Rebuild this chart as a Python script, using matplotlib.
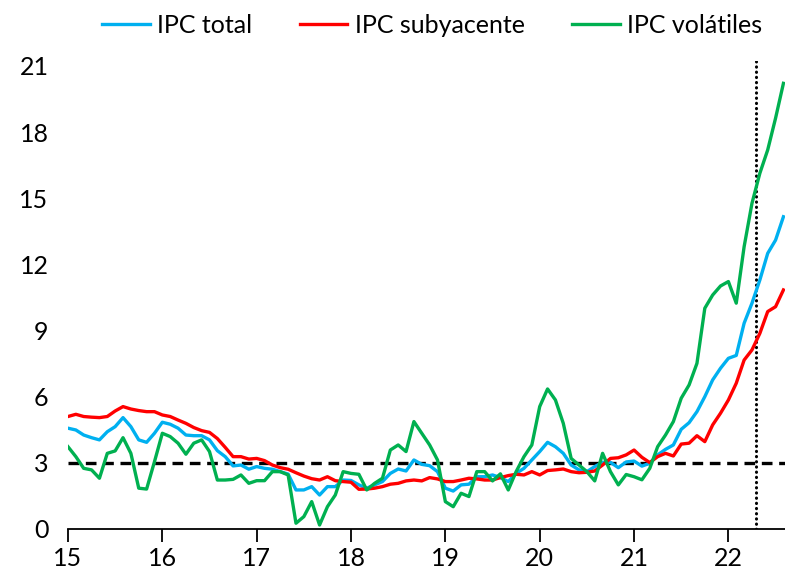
import numpy as np
import matplotlib.pyplot as plt

# Inflacion, % a/a, mensual desde ene-2015 hasta ago-2022
ipc_total = [4.57, 4.49, 4.26, 4.14, 4.04, 4.41, 4.64, 5.05, 4.64, 4.04, 3.93, 4.34,
             4.84, 4.75, 4.57, 4.26, 4.23, 4.23, 4.04, 3.55, 3.28, 2.86, 2.90, 2.71,
             2.83, 2.75, 2.71, 2.60, 2.49, 1.77, 1.77, 1.92, 1.54, 1.92, 1.92, 2.22,
             2.20, 2.00, 1.85, 2.00, 2.15, 2.52, 2.72, 2.63, 3.13, 2.93, 2.87, 2.60,
             1.85, 1.72, 2.00, 2.03, 2.37, 2.37, 2.45, 2.33, 2.15, 2.52, 2.75, 3.13,
             3.51, 3.93, 3.73, 3.43, 2.90, 2.68, 2.60, 2.83, 3.02, 3.02, 2.78, 3.04,
             3.08, 2.85, 2.98, 3.36, 3.61, 3.81, 4.52, 4.82, 5.32, 6.00, 6.76, 7.29,
             7.74, 7.87, 9.33, 10.24, 11.29, 12.50, 13.10, 14.16]

ipc_subyacente = [5.10, 5.20, 5.10, 5.07, 5.05, 5.10, 5.35, 5.55, 5.44, 5.37, 5.32, 5.32,
                  5.17, 5.10, 4.94, 4.79, 4.60, 4.46, 4.38, 4.10, 3.70, 3.28, 3.28, 3.17,
                  3.20, 3.10, 2.90, 2.78, 2.71, 2.55, 2.40, 2.28, 2.22, 2.37, 2.19, 2.15,
                  2.12, 1.80, 1.81, 1.85, 1.92, 2.03, 2.07, 2.18, 2.22, 2.18, 2.33, 2.27,
                  2.15, 2.15, 2.22, 2.30, 2.27, 2.22, 2.22, 2.33, 2.42, 2.48, 2.45, 2.60,
                  2.45, 2.65, 2.68, 2.72, 2.60, 2.55, 2.57, 2.63, 2.90, 3.20, 3.23, 3.36,
                  3.58, 3.25, 3.01, 3.28, 3.43, 3.31, 3.85, 3.89, 4.23, 3.96, 4.72, 5.25,
                  5.85, 6.61, 7.66, 8.12, 8.87, 9.86, 10.08, 10.84]

ipc_volatiles = [3.73, 3.28, 2.75, 2.68, 2.30, 3.43, 3.54, 4.14, 3.43, 1.85, 1.81, 3.05,
                 4.34, 4.19, 3.89, 3.39, 3.89, 4.04, 3.51, 2.22, 2.22, 2.25, 2.45, 2.07,
                 2.19, 2.19, 2.60, 2.60, 2.45, 0.26, 0.56, 1.24, 0.18, 1.01, 1.54, 2.60,
                 2.52, 2.48, 1.77, 2.07, 2.30, 3.58, 3.81, 3.51, 4.87, 4.34, 3.81, 3.13,
                 1.24, 1.01, 1.62, 1.47, 2.60, 2.60, 2.18, 2.50, 1.77, 2.60, 3.28, 3.81,
                 5.55, 6.35, 5.85, 4.79, 3.20, 2.90, 2.60, 2.18, 3.43, 2.60, 2.00, 2.47,
                 2.37, 2.23, 2.75, 3.73, 4.26, 4.87, 5.93, 6.53, 7.51, 10.01, 10.61, 11.02,
                 11.22, 10.24, 12.80, 14.77, 16.13, 17.19, 18.63, 20.21]

meta = 3.0
corte = 22.29
x_ticks = [15, 16, 17, 18, 19, 20, 21, 22]
y_ticks = [0, 3, 6, 9, 12, 15, 18, 21]

x = 15 + np.arange(len(ipc_total)) / 12.0

plt.rcParams['font.family'] = ['Lato', 'DejaVu Sans']

fig = plt.figure(figsize=(7.85, 5.79), dpi=100)
ax = fig.add_axes([0.0866, 0.0864, 0.9134, 0.8074])

ax.plot(x, ipc_total, color='#00B0F0', lw=2.4, label='IPC total')
ax.plot(x, ipc_subyacente, color='#FF0000', lw=2.4, label='IPC subyacente')
ax.plot(x, ipc_volatiles, color='#00B050', lw=2.4, label='IPC volátiles')

ax.axhline(meta, color='black', lw=2.4, linestyle=(0, (3.2, 2.0)), zorder=1)
ax.axvline(corte, color='black', lw=2.2, linestyle=(0, (0.1, 1.6)),
           dash_capstyle='round', zorder=1)

ax.set_xlim(15, 22.6)
ax.set_ylim(0, 21.2)
ax.set_xticks(x_ticks)
ax.set_yticks(y_ticks)
ax.tick_params(axis='x', direction='out', length=9, width=1.3, labelsize=18, pad=4)
ax.tick_params(axis='y', length=0, labelsize=18, pad=14)

for s in ['top', 'right', 'left']:
    ax.spines[s].set_visible(False)
ax.spines['bottom'].set_linewidth(1.3)

fig.legend(loc='upper right', bbox_to_anchor=(1.0, 1.015), ncol=3, frameon=False,
           fontsize=18, handlelength=1.9, handletextpad=0.3, columnspacing=1.9)

fig.savefig('out.png', dpi=100)
